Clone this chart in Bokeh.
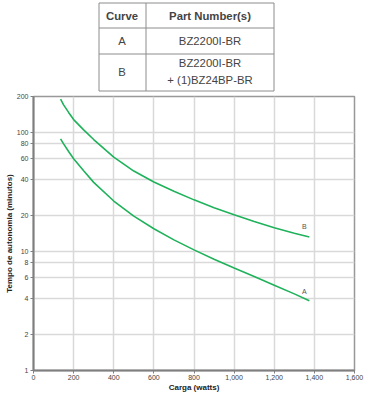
from bokeh.plotting import figure
from bokeh.layouts import column
from bokeh.models import Range1d, FixedTicker, NumeralTickFormatter, ColumnDataSource
from bokeh.core.properties import value
from bokeh.embed import file_html
from bokeh.resources import INLINE

FONT = "Liberation Sans"

# ---- data ----
watts = [135, 150, 175, 200, 250, 300, 400, 500, 600, 700, 800, 900, 1000, 1100, 1200, 1300, 1375]
curve_a = [88, 80, 69, 60, 47.5, 38, 26.5, 19.8, 15.5, 12.5, 10.3, 8.6, 7.26, 6.15, 5.2, 4.4, 3.85]
curve_b = [190, 170, 147, 128, 105, 87, 61.9, 47.3, 38.3, 32, 27.1, 23.3, 20.3, 17.8, 15.8, 14.2, 13.2]
curve_names = ["A", "B"]
label_x = [1350, 1350]
label_y = [4.3, 15.0]
x_ticks = [0, 200, 400, 600, 800, 1000, 1200, 1400, 1600]
y_ticks = [1, 2, 4, 6, 8, 10, 20, 40, 60, 80, 100, 200]
table_header = ["Curve", "Part Number(s)"]
table_curves = ["A", "B"]
table_parts = [["BZ2200I-BR"], ["BZ2200I-BR", "+ (1)BZ24BP-BR"]]

GREEN = "#1fb25a"
GRID = "#d9d9d9"
AXIS = "#7f7f7f"
TXT = "#444444"

FL, FR, FT, FB = 33, 354, 96, 370   # frame edges (page px)
TH = 92                             # table strip height
BL, BR = FL, 12

# ---- table strip (coords = page pixels) ----
t = figure(frame_width=FR - FL, frame_height=TH, x_range=Range1d(FL, FR), y_range=Range1d(TH, 0),
           output_backend="svg", toolbar_location=None,
           min_border_left=BL, min_border_right=BR, min_border_top=0, min_border_bottom=0,
           x_axis_location=None, y_axis_location=None)
t.grid.visible = False
t.outline_line_color = None
tl, tr, tm = 98.5, 273.5, 145.5
rows = [2.5, 27.5, 53.5, 90.5]
t.segment(x0=[tl] * 4, y0=rows, x1=[tr] * 4, y1=rows, line_color="#8c8c8c", line_width=1)
t.segment(x0=[tl, tm, tr], y0=[rows[0]] * 3, x1=[tl, tm, tr], y1=[rows[-1]] * 3,
          line_color="#8c8c8c", line_width=1)
t.text(x=[121.5, 209.5], y=[15, 15], text=table_header, text_align="center",
       text_baseline="middle", text_font=value(FONT), text_font_size="8.5pt",
       text_font_style="bold", text_color=TXT)
t.text(x=[121.5, 121.5], y=[40.5, 71], text=table_curves, text_align="center",
       text_baseline="middle", text_font=value(FONT), text_font_size="8.5pt", text_color=TXT)
px, py, ptxt = [], [], []
row_centers = [40.5, 70.5]
for rc, parts in zip(row_centers, table_parts):
    n = len(parts)
    for i, s in enumerate(parts):
        px.append(209.5)
        py.append(rc + (i - (n - 1) / 2) * 17)
        ptxt.append(s)
t.text(x=px, y=py, text=ptxt, text_align="center", text_baseline="middle",
       text_font=value(FONT), text_font_size="8.5pt", text_color=TXT)

# ---- chart ----
p = figure(frame_width=FR - FL, frame_height=FB - FT,
           x_range=Range1d(0, 1600), y_range=Range1d(1, 200),
           y_axis_type="log", output_backend="svg", toolbar_location=None,
           min_border_top=FT - TH, min_border_right=BR, min_border_left=BL, min_border_bottom=20)
p.xaxis.ticker = FixedTicker(ticks=x_ticks)
p.yaxis.ticker = FixedTicker(ticks=y_ticks)
p.xaxis.formatter = NumeralTickFormatter(format="0,0")
p.yaxis.formatter = NumeralTickFormatter(format="0")
p.xaxis.minor_tick_line_color = None
p.yaxis.minor_tick_line_color = None
for ax in (p.xaxis, p.yaxis):
    ax.axis_line_color = AXIS
    ax.axis_line_width = 2
    ax.major_tick_line_color = AXIS
    ax.major_tick_line_width = 1
    ax.major_tick_in = 0
    ax.major_tick_out = 3
    ax.major_label_text_font = FONT
    ax.major_label_text_font_size = "7px"
    ax.major_label_text_color = TXT
    ax.major_label_standoff = 2
    ax.axis_label_text_font = FONT
    ax.axis_label_text_font_size = "8px"
    ax.axis_label_text_font_style = "bold"
    ax.axis_label_text_color = "#222222"
    ax.axis_label_standoff = 0
p.xaxis.major_label_standoff = 1
p.xaxis.axis_label = "Carga (watts)"
p.yaxis.axis_label = "Tempo de autonomia (minutos)"
p.xgrid.grid_line_color = GRID
p.ygrid.grid_line_color = GRID
p.xgrid.grid_line_width = 1.5
p.ygrid.grid_line_width = 1.5
p.outline_line_color = "#999999"
p.outline_line_width = 1.5

src = ColumnDataSource(dict(w=watts, a=curve_a, b=curve_b))
p.line("w", "a", source=src, line_color=GREEN, line_width=1.6)
p.line("w", "b", source=src, line_color=GREEN, line_width=1.6)
p.text(x=label_x, y=label_y, text=curve_names, text_align="center", text_baseline="bottom",
       text_font=value(FONT), text_font_size="7px", text_color="#555555")

layout = column(t, p, spacing=0)
open("out.html", "w").write(file_html(layout, INLINE))
